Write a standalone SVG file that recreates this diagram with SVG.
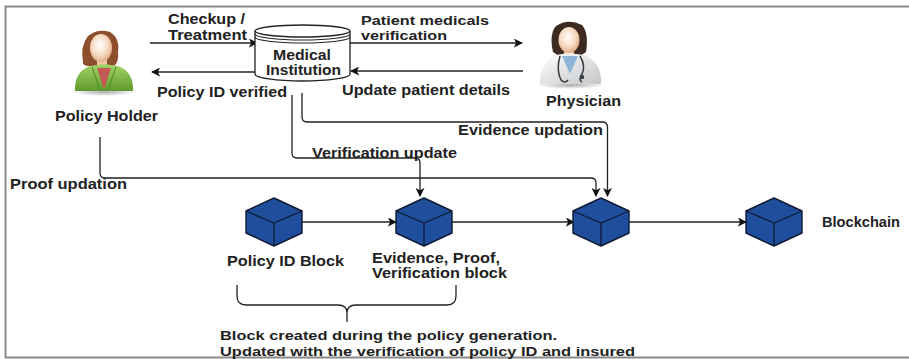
<svg xmlns="http://www.w3.org/2000/svg" width="909" height="359" viewBox="0 0 909 359">
  <defs>
    <marker id="arrow" viewBox="0 0 10 10" refX="9" refY="5" markerWidth="9" markerHeight="9" markerUnits="userSpaceOnUse" orient="auto">
      <path d="M0,0 L10,5 L0,10 L2.5,5 z" fill="#111"/>
    </marker>
    <radialGradient id="skin" cx="0.45" cy="0.4" r="0.65">
      <stop offset="0" stop-color="#ffffff"/>
      <stop offset="0.55" stop-color="#f7dcc4"/>
      <stop offset="1" stop-color="#d9a27a"/>
    </radialGradient>
    <linearGradient id="green" x1="0" y1="0" x2="0" y2="1">
      <stop offset="0" stop-color="#a6d46a"/>
      <stop offset="1" stop-color="#5e9a2c"/>
    </linearGradient>
    <linearGradient id="coat" x1="0" y1="0" x2="1" y2="1">
      <stop offset="0" stop-color="#ffffff"/>
      <stop offset="1" stop-color="#c4c6c8"/>
    </linearGradient>
    <radialGradient id="shadow" cx="0.5" cy="0.5" r="0.5">
      <stop offset="0" stop-color="#888" stop-opacity="0.7"/>
      <stop offset="1" stop-color="#888" stop-opacity="0"/>
    </radialGradient>
    <g id="cube">
      <path class="cube" d="M0,0 L28,13 L28,35 L0,48 L-28,35 L-28,13 Z"/>
      <path class="cube-edge" d="M-28,13 L0,25 L28,13 M0,25 L0,48"/>
    </g>
  </defs>
  <style>
    text { font-family: "Liberation Sans", Arial, sans-serif; font-weight: bold; font-size: 14.5px; fill: #222; }
    .tight { font-size: 13.5px; }
    .small { font-size: 13px; }
    .conn { fill: none; stroke: #222; stroke-width: 1.3; }
    .cube { fill: #1f4f9c; stroke: #0e1a33; stroke-width: 1.4; stroke-linejoin: round; }
    .cube-edge { fill: none; stroke: #0e1a33; stroke-width: 1.3; }
    .frame { fill: none; stroke: #8a8a8a; stroke-width: 2; }
  </style>

  <rect width="909" height="359" fill="#ffffff"/>
  <path class="frame" d="M909,6.5 H5.5 V357.5 H909"/>

  <!-- connectors -->
  <g id="connectors">
    <path class="conn" d="M150,43 H257" marker-end="url(#arrow)"/>
    <path class="conn" d="M256,72 H152" marker-end="url(#arrow)"/>
    <path class="conn" d="M350,43 H522" marker-end="url(#arrow)"/>
    <path class="conn" d="M523,71 H351" marker-end="url(#arrow)"/>
    <path class="conn" d="M302,93 V117 Q302,122 307,122 H602 Q607.5,122 607.5,127 V196" marker-end="url(#arrow)"/>
    <path class="conn" d="M292,95 V153 Q292,158 297,158 H415 Q420,158 420,163 V196" marker-end="url(#arrow)"/>
    <path class="conn" d="M100,137 V173 Q100,178 105,178 H591 Q596,178 596,183 V196" marker-end="url(#arrow)"/>
    <path class="conn" d="M302,222 H396" marker-end="url(#arrow)"/>
    <path class="conn" d="M452,222 H574" marker-end="url(#arrow)"/>
    <path class="conn" d="M629,222 H746" marker-end="url(#arrow)"/>
    <path class="conn" d="M237,285 V296 Q237,305 246,305 H338 Q347,305 347,313 V322 M347,313 Q347,305 356,305 H447 Q456,305 456,296 V285"/>
  </g>

  <!-- policy holder -->
  <g id="policy-holder">
    <ellipse cx="104" cy="92" rx="32" ry="4" fill="url(#shadow)"/>
    <path d="M83,62 Q80,46 88,36 Q98,28 110,32 Q120,38 118,52 Q119,62 114,66 L88,66 Q82,65 83,62 Z" fill="#8e4f2c"/>
    <rect x="97" y="58" width="10" height="10" fill="#efc7a5"/>
    <path d="M75,91 Q74,72 90,66 L104,64 L118,66 Q134,72 133,91 Z" fill="url(#green)"/>
    <path d="M97,68 L104,90 L111,68 Z" fill="#c65a55"/>
    <path d="M92,67 L100,90 M116,67 L108,90" stroke="#4f8a22" stroke-width="1" fill="none"/>
    <ellipse cx="101" cy="48" rx="11" ry="14" fill="url(#skin)"/>
    <text x="55" y="120.5" textLength="103" lengthAdjust="spacingAndGlyphs">Policy Holder</text>
  </g>

  <!-- medical institution -->
  <g id="medical-institution">
    <path d="M255,31 V74 A47.5,7 0 0 0 350,74 V31" fill="#fff" stroke="#222" stroke-width="1.3"/>
    <ellipse cx="302.5" cy="31" rx="47.5" ry="6" fill="#fff" stroke="#222" stroke-width="1.3"/>
    <path d="M255,34 A47.5,6 0 0 0 350,34 M255,37 A47.5,6 0 0 0 350,37" fill="none" stroke="#222" stroke-width="1.1"/>
    <text x="273" y="60" textLength="58" lengthAdjust="spacingAndGlyphs">Medical</text>
    <text x="266" y="75" textLength="75" lengthAdjust="spacingAndGlyphs">Institution</text>
  </g>

  <!-- physician -->
  <g id="physician">
    <ellipse cx="571" cy="85" rx="34" ry="4" fill="url(#shadow)"/>
    <path d="M553,52 Q549,34 556,26 Q568,18 582,25 Q589,33 586,52 L580,56 L559,56 Z" fill="#3d2b22"/>
    <rect x="564" y="48" width="10" height="9" fill="#efc7a5"/>
    <path d="M540,84 Q539,62 556,55 L569,53 L584,55 Q602,62 601,84 Z" fill="url(#coat)"/>
    <path d="M562,56 L570,74 L578,56 Z" fill="#8fb6d8"/>
    <path d="M560,56 Q556,70 561,80 Q565,84 568,80 M580,56 Q586,66 582,74 Q578,80 582,82" fill="none" stroke="#3a3f44" stroke-width="1.6"/>
    <circle cx="582" cy="77" r="2.2" fill="#3a3f44"/>
    <ellipse cx="569" cy="40" rx="10.5" ry="13" fill="url(#skin)"/>
    <text x="546" y="106" textLength="75" lengthAdjust="spacingAndGlyphs">Physician</text>
  </g>

  <!-- edge labels -->
  <g id="labels">
    <text x="168" y="24" textLength="77" lengthAdjust="spacingAndGlyphs">Checkup /</text>
    <text x="168" y="40" textLength="79" lengthAdjust="spacingAndGlyphs">Treatment</text>
    <text x="157" y="96.5" textLength="130" lengthAdjust="spacingAndGlyphs">Policy ID verified</text>
    <text class="tight" x="361" y="24.5" textLength="128" lengthAdjust="spacingAndGlyphs">Patient medicals</text>
    <text class="tight" x="361" y="39.5" textLength="86" lengthAdjust="spacingAndGlyphs">verification</text>
    <text x="342" y="95" textLength="168" lengthAdjust="spacingAndGlyphs">Update patient details</text>
    <text x="458" y="134.5" textLength="145" lengthAdjust="spacingAndGlyphs">Evidence updation</text>
    <text x="312" y="157.5" textLength="145" lengthAdjust="spacingAndGlyphs">Verification update</text>
    <text x="10" y="189" textLength="117" lengthAdjust="spacingAndGlyphs">Proof updation</text>
  </g>

  <!-- blocks -->
  <g id="policy-id-block">
    <use href="#cube" x="274" y="198"/>
    <text x="227" y="266" textLength="117" lengthAdjust="spacingAndGlyphs">Policy ID Block</text>
  </g>
  <g id="evidence-block">
    <use href="#cube" x="424" y="198"/>
    <text x="372" y="262.5" textLength="128" lengthAdjust="spacingAndGlyphs">Evidence, Proof,</text>
    <text x="372" y="277.5" textLength="135" lengthAdjust="spacingAndGlyphs">Verification block</text>
  </g>
  <g id="block-3">
    <use href="#cube" x="601" y="198"/>
  </g>
  <g id="blockchain">
    <use href="#cube" x="774" y="198"/>
    <text x="822" y="226.5" textLength="78" lengthAdjust="spacingAndGlyphs">Blockchain</text>
  </g>

  <g id="note">
    <text class="small" x="220" y="340" textLength="337" lengthAdjust="spacingAndGlyphs">Block created during the policy generation.</text>
    <text class="small" x="220" y="355.5" textLength="415" lengthAdjust="spacingAndGlyphs">Updated with the verification of policy ID and insured</text>
  </g>
</svg>
